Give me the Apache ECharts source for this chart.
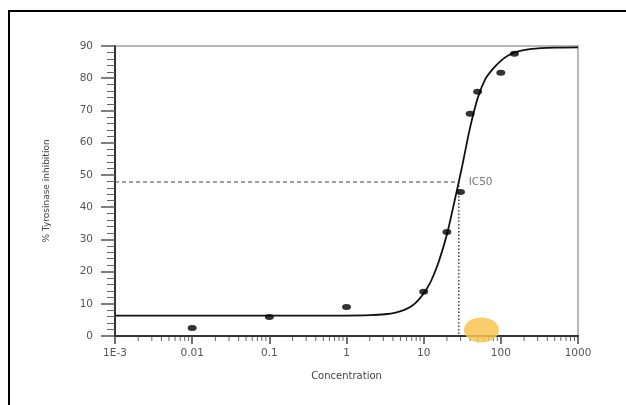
<!DOCTYPE html>
<html>
<head>
<meta charset="utf-8">
<script src="https://cdn.jsdelivr.net/npm/echarts@6/dist/echarts.min.js"></script>
<style>
  html, body { margin: 0; padding: 0; background: #fff; }
  #chart { position: absolute; left: 0; top: 0; width: 626px; height: 405px; }
  #frame { position: absolute; left: 8px; top: 10px; width: 630px; height: 420px;
           border-left: 2px solid #000; border-top: 2px solid #000; pointer-events: none; }
</style>
</head>
<body>
<div id="chart"></div>
<div id="frame"></div>
<script>
// ---- data ----
const concentrations = [0.01, 0.1, 1, 10, 20, 30, 40, 50, 100, 150];
const inhibition = [2.5, 5.9, 9.0, 13.7, 32.3, 44.7, 69.0, 75.8, 81.7, 87.6];

// fitted curve
const curveX = [0.001, 0.1, 1, 2, 3.16, 4.47, 5.62, 7.08, 8.41, 10, 11.2, 12.6, 15.8, 20, 25.1, 31.6, 39.8, 50.1, 63.1, 79.4, 100, 126, 158, 251, 501, 1000];
const curveY = [6.3, 6.3, 6.33, 6.45, 6.75, 7.35, 8.1, 9.4, 11.0, 13.2, 15.0, 17.3, 23.3, 31.5, 41.8, 52.8, 64.5, 73.8, 79.8, 83.0, 85.4, 87.1, 88.2, 89.1, 89.5, 89.6];

const ic50X = 28.5;
const ic50Y = 47.8;

const xTickLabels = ['1E-3', '0.01', '0.1', '1', '10', '100', '1000'];
const yTicks = [0, 10, 20, 30, 40, 50, 60, 70, 80, 90];
const minorMultipliers = [2, 3, 4, 5, 6, 7, 8, 9];
const decades = [0.001, 0.01, 0.1, 1, 10, 100];

const highlight = [[56, 1.9]];

// ---- build ----
const minorXTicks = [];
decades.forEach(d => minorMultipliers.forEach(m => minorXTicks.push([d * m, 0])));

const font = "'DejaVu Sans', 'Liberation Sans', Arial, sans-serif";
const chart = echarts.init(document.getElementById('chart'), null, { renderer: 'canvas' });

chart.setOption({
  animation: false,
  backgroundColor: '#fff',
  grid: { left: 115, right: 48, top: 46, bottom: 69, show: true, borderColor: '#b8b8b8', borderWidth: 2, backgroundColor: 'transparent' },
  xAxis: {
    type: 'log', logBase: 10, min: 0.001, max: 1000,
    name: 'Concentration', nameLocation: 'middle', nameGap: 35,
    nameTextStyle: { fontFamily: font, fontSize: 10, color: '#444' },
    axisLine: { show: true, onZero: false, lineStyle: { color: '#333', width: 2 } },
    axisTick: { show: true, inside: false, length: 8, lineStyle: { color: '#444', width: 1.5 } },
    minorTick: { show: false },
    splitLine: { show: false },
    axisLabel: {
      margin: 12, fontFamily: font, fontSize: 10.5, color: '#555',
      formatter: (v, i) => xTickLabels[i] !== undefined ? xTickLabels[i] : ''
    }
  },
  yAxis: {
    type: 'value', min: 0, max: 90, interval: 10,
    name: '% Tyrosinase inhibition', nameLocation: 'middle', nameGap: 64,
    nameTextStyle: { fontFamily: font, fontSize: 9, color: '#444' },
    axisLine: { show: true, lineStyle: { color: '#333', width: 2 } },
    axisTick: { show: true, inside: false, length: 14, lineStyle: { color: '#555', width: 1.5 } },
    minorTick: { show: true, splitNumber: 5, length: 8, lineStyle: { color: '#666', width: 1 } },
    splitLine: { show: false },
    axisLabel: {
      margin: 22, fontFamily: font, fontSize: 10.5, color: '#555',
      formatter: v => yTicks.indexOf(v) >= 0 ? String(v) : ''
    }
  },
  series: [
    {
      type: 'custom', name: 'minorTicks', clip: false, silent: true, z: 1,
      data: minorXTicks,
      renderItem: (params, api) => {
        const p = api.coord([api.value(0), api.value(1)]);
        return { type: 'line', shape: { x1: p[0], y1: p[1] + 1, x2: p[0], y2: p[1] + 5 },
                 style: { stroke: '#666', lineWidth: 1 } };
      }
    },
    {
      type: 'line', name: 'ic50h', silent: true, symbol: 'none', z: 2,
      data: [[0.001, ic50Y], [ic50X, ic50Y]],
      lineStyle: { color: '#444', width: 1.2, type: [4, 3] }
    },
    {
      type: 'line', name: 'ic50v', silent: true, symbol: 'none', z: 2,
      data: [[ic50X, ic50Y], [ic50X, 0]],
      lineStyle: { color: '#444', width: 1.5, type: [1.5, 2] }
    },
    {
      type: 'scatter', name: 'ic50label', silent: true, symbolSize: 0, z: 3,
      data: [[ic50X, ic50Y]],
      label: { show: true, position: 'right', distance: 10, formatter: 'IC50',
               fontFamily: font, fontSize: 10.5, color: '#555' }
    },
    {
      type: 'line', name: 'fit', smooth: 0.25, symbol: 'none', z: 4,
      data: curveX.map((x, i) => [x, curveY[i]]),
      lineStyle: { color: '#111', width: 1.8 }
    },
    {
      type: 'scatter', name: 'data', z: 5,
      symbol: 'circle', symbolSize: [9, 6],
      itemStyle: { color: '#000' },
      data: concentrations.map((x, i) => [x, inhibition[i]])
    },
    {
      type: 'scatter', name: 'highlight', silent: true, z: 6, clip: false,
      symbol: 'circle', symbolSize: [35, 25],
      itemStyle: { color: '#f8c650', opacity: 0.85 },
      data: highlight
    }
  ]
});
</script>
</body>
</html>
